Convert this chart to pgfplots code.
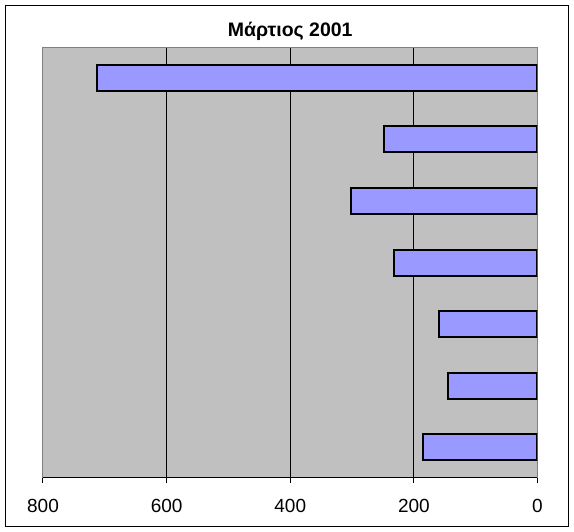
\documentclass[border=0pt]{standalone}
\usepackage{pgfplots}
\pgfplotsset{compat=1.18}
\usepackage{fontspec}
\setmainfont{Liberation Sans}
\definecolor{plotgray}{HTML}{C0C0C0}
\definecolor{barblue}{HTML}{9999FF}
\definecolor{bordergray}{HTML}{808080}
\begin{document}
\begin{tikzpicture}[x=1pt,y=1pt]
\path[use as bounding box] (0,0) rectangle (574,532);
\draw[line width=1.2pt] (5.5,5.5) rectangle (568.5,526.5);
\begin{axis}[
 at={(43pt,54pt)}, anchor=south west,
 scale only axis, width=494.5pt, height=431pt,
 xbar, bar width=26pt,
 x dir=reverse, y dir=reverse,
 xmin=0, xmax=800, ymin=0.5, ymax=7.5,
 ytick=\empty,
 xtick={0,200,400,600,800},
 xtick pos=left, tick align=outside,
 major tick length=5pt,
 tick style={black, line width=1pt},
 xmajorgrids, major grid style={black, line width=1pt},
 axis background/.style={fill=plotgray},
 axis line style={bordergray, line width=1pt},
 xticklabel style={font=\fontsize{19}{22}\selectfont, /pgf/number format/assume math mode=true, anchor=base, yshift=-30pt},
 title={Μάρτιος 2001},
 title style={font=\fontsize{19.5}{22}\selectfont\bfseries, anchor=base, at={(0.5,1)}, yshift=5pt},
]
\addplot[fill=barblue, draw=black, line width=2pt] coordinates {(712,1) (249,2) (302,3) (232,4) (160,5) (144,6) (186,7)};
\draw[black, line width=1pt] (rel axis cs:0,0) -- (rel axis cs:1,0);
\end{axis}
\end{tikzpicture}
\end{document}
